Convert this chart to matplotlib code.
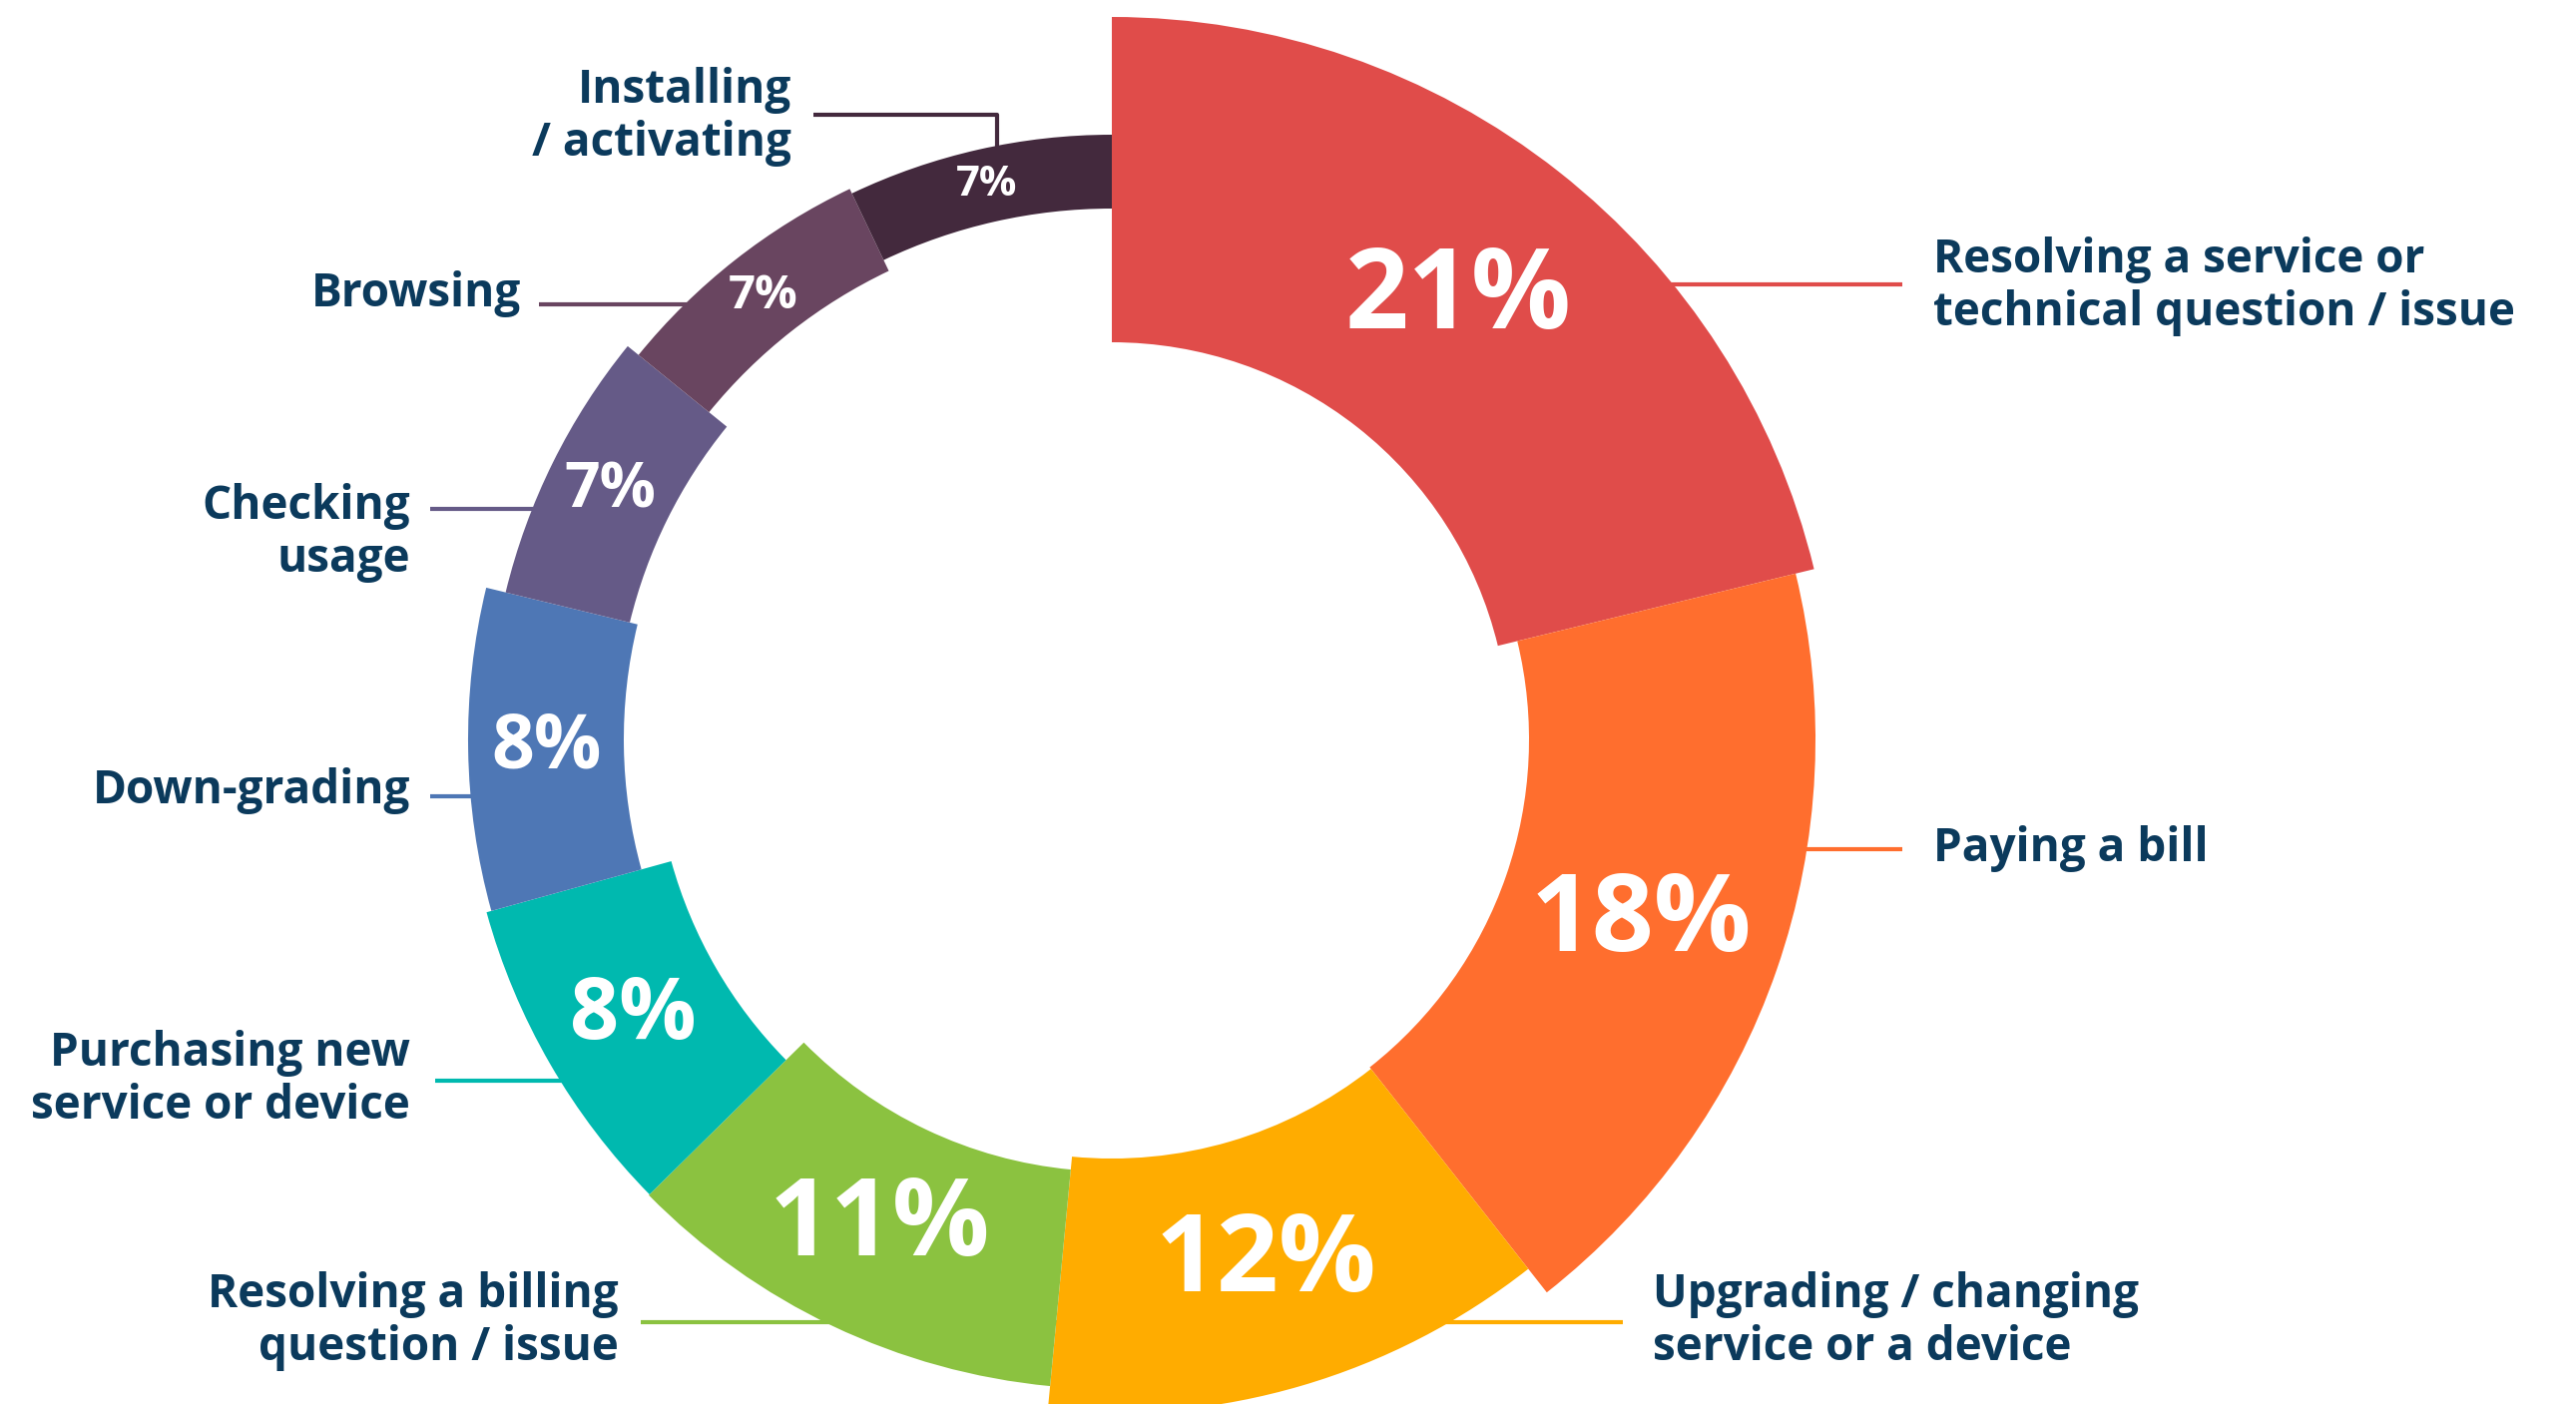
import numpy as np
import matplotlib.pyplot as plt
from matplotlib.patches import Wedge

# data
categories = [
    "Resolving a service or\ntechnical question / issue",
    "Paying a bill",
    "Upgrading / changing\nservice or a device",
    "Resolving a billing\nquestion / issue",
    "Purchasing new\nservice or device",
    "Down-grading",
    "Checking\nusage",
    "Browsing",
    "Installing\n/ activating",
]
shares = [21, 18, 12, 11, 8, 8, 7, 7, 7]

# style
colors = ["#E04C4A", "#FF6E2E", "#FFAC00", "#8BC240", "#00B9AF",
          "#4E77B5", "#655A87", "#694560", "#43293D"]
text_color = "#0B3A5C"
outer_r = [724, 705, 675, 651, 650, 645, 625, 611, 606]
inner_r = [398, 418, 420, 433, 458, 489, 497, 520, 532]
pct_size = [80, 78, 78, 78, 62, 54, 45, 34, 30]
center = (1114, 741)

# label anchor (x, y, ha) and leader lines (start points, last leg goes into the slice)
label_pos = [(1937, 287, "left"), (1937, 850, "left"), (1656, 1324, "left"),
             (620, 1324, "right"), (411, 1082, "right"), (411, 792, "right"),
             (411, 534, "right"), (522, 295, "right"), (793, 117, "right")]
leader_y = [285, 851, 1325, 1325, 1083, 798, 510, 305, 115]
leader_x = [1906, 1906, 1626, 642, 436, 431, 431, 540, 815]
elbow_x = {8: 999}

plt.rcParams["font.family"] = ["Open Sans", "DejaVu Sans"]

fig = plt.figure(figsize=(25.81, 14.07), dpi=100)
ax = fig.add_axes([0, 0, 1, 1])
ax.set_xlim(0, 2581)
ax.set_ylim(1407, 0)
ax.axis("off")

total = sum(shares)
cum = np.concatenate([[0], np.cumsum(shares)]) / total * 360.0
cx, cy = center

for i, v in enumerate(shares):
    t1, t2 = cum[i], cum[i + 1]
    w = Wedge(center, outer_r[i], -90 + t1, -90 + t2,
              width=outer_r[i] - inner_r[i], facecolor=colors[i],
              edgecolor="none", zorder=3)
    ax.add_patch(w)

    mid = np.deg2rad((t1 + t2) / 2)
    rm = (outer_r[i] + inner_r[i]) / 2
    ax.text(cx + rm * np.sin(mid), cy - rm * np.cos(mid), f"{v}%",
            color="white", fontsize=pct_size[i], fontweight="bold",
            ha="center", va="center", zorder=5)

    # leader line
    lx, ly, ha = label_pos[i]
    side = 1 if ha == "left" else -1
    if i in elbow_x:
        ex = elbow_x[i]
        ey = cy - np.sqrt(max(rm ** 2 - (ex - cx) ** 2, 0))
        xs = [leader_x[i], ex, ex]
        ys = [leader_y[i], leader_y[i], ey]
    else:
        dy = leader_y[i] - cy
        ex = cx + side * np.sqrt(max(rm ** 2 - dy ** 2, 0))
        xs = [leader_x[i], ex]
        ys = [leader_y[i], leader_y[i]]
    ax.plot(xs, ys, color=colors[i], lw=3, solid_capstyle="butt", zorder=2)

    ax.text(lx, ly, categories[i], color=text_color, fontsize=33,
            fontweight="bold", ha=ha, va="center", linespacing=1.14,
            multialignment=ha, zorder=4)

fig.savefig("out.png", dpi=100, facecolor="white")
